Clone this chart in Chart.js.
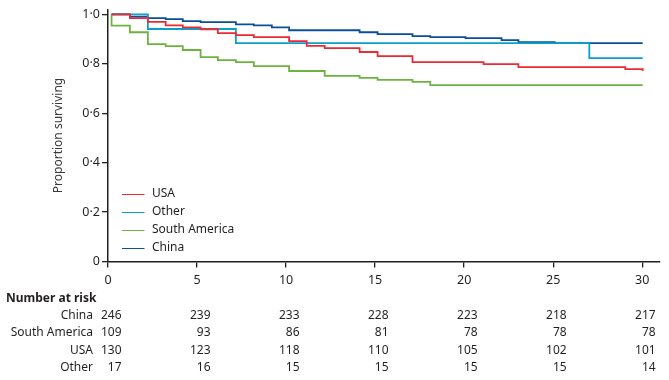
<!DOCTYPE html>
<html>
<head>
<meta charset="utf-8">
<script src="https://cdn.jsdelivr.net/npm/chart.js@4/dist/chart.umd.min.js"></script>
<style>
html,body{margin:0;padding:0;background:#fff;}
#wrap{position:relative;width:669px;height:380px;}
</style>
</head>
<body>
<div id="wrap"><canvas id="c" width="669" height="380"></canvas></div>
<script>
// ---- data ----
const seriesNames = ["USA", "Other", "South America", "China"];
const usaX = [0.2, 1.23, 2.24, 3.24, 4.2, 5.2, 6.17, 7.18, 8.19, 10.17, 11.16, 12.17, 14.13, 15.14, 17.1, 21.09, 23.05, 29.05, 30.03];
const usaY = [1.0, 0.985, 0.97, 0.956, 0.948, 0.94, 0.924, 0.916, 0.908, 0.892, 0.873, 0.864, 0.848, 0.831, 0.807, 0.799, 0.787, 0.779, 0.771];
const otherX = [0.2, 2.24, 7.18, 27.03, 30.03];
const otherY = [1.0, 0.941, 0.884, 0.823, 0.823];
const southAmericaX = [0.2, 0.2, 1.23, 2.24, 3.24, 4.2, 5.2, 6.17, 7.18, 8.19, 10.17, 12.17, 14.13, 15.14, 17.1, 18.1, 30.03];
const southAmericaY = [1.0, 0.955, 0.928, 0.88, 0.872, 0.856, 0.827, 0.815, 0.807, 0.791, 0.771, 0.751, 0.743, 0.735, 0.727, 0.714, 0.714];
const chinaX = [0.2, 1.23, 2.24, 3.24, 4.2, 5.2, 7.18, 8.19, 9.2, 10.17, 14.13, 15.14, 17.1, 18.1, 20.08, 22.1, 23.05, 25.09, 30.03];
const chinaY = [1.0, 0.991, 0.985, 0.981, 0.973, 0.969, 0.960, 0.956, 0.948, 0.936, 0.928, 0.920, 0.912, 0.908, 0.904, 0.896, 0.888, 0.884, 0.884];

const xTicks = [0, 5, 10, 15, 20, 25, 30];
const yTicks = [0, 0.2, 0.4, 0.6, 0.8, 1.0];
const yTickLabels = ["0", "0·2", "0·4", "0·6", "0·8", "1·0"];
const yTitle = "Proportion surviving";

const riskTitle = "Number at risk";
const riskTimes = [0, 5, 10, 15, 20, 25, 30];
const riskRowNames = ["China", "South America", "USA", "Other"];
const riskChina = [246, 239, 233, 228, 223, 218, 217];
const riskSouthAmerica = [109, 93, 86, 81, 78, 78, 78];
const riskUSA = [130, 123, 118, 110, 105, 102, 101];
const riskOther = [17, 16, 15, 15, 15, 15, 14];

// ---- styles ----
const colors = ["#ec2a33", "#0aa0c8", "#6db33f", "#0a4f9c"];
const FONT = "'Noto Sans', 'Open Sans', sans-serif";
const TXT = "#231f20";

const pts = (xs, ys) => xs.map((x, i) => ({x: x, y: ys[i]}));
const seriesData = [pts(usaX, usaY), pts(otherX, otherY), pts(southAmericaX, southAmericaY), pts(chinaX, chinaY)];
const riskRows = [riskChina, riskSouthAmerica, riskUSA, riskOther];

const legendPlugin = {
  id: 'kmLegend',
  afterDraw(chart) {
    const ctx = chart.ctx;
    ctx.save();
    ctx.font = "12px " + FONT;
    ctx.textBaseline = 'middle';
    ctx.textAlign = 'left';
    chart.data.datasets.forEach((ds, i) => {
      const y = 194 + i * 17.9;
      ctx.strokeStyle = ds.borderColor;
      ctx.lineWidth = 1;
      ctx.beginPath();
      ctx.moveTo(122, Math.round(y) + 0.5);
      ctx.lineTo(144.5, Math.round(y) + 0.5);
      ctx.stroke();
      ctx.fillStyle = TXT;
      ctx.fillText(ds.label, 152, y);
    });
    ctx.restore();
  }
};

const riskPlugin = {
  id: 'riskTable',
  afterDraw(chart) {
    const ctx = chart.ctx;
    const xs = chart.scales.x;
    ctx.save();
    ctx.fillStyle = TXT;
    ctx.textBaseline = 'middle';
    ctx.font = "bold 12px " + FONT;
    ctx.textAlign = 'left';
    ctx.fillText(riskTitle, 6, 298.5);
    ctx.font = "12px " + FONT;
    riskRows.forEach((row, r) => {
      const y = 315.5 + r * 17.4;
      ctx.textAlign = 'right';
      ctx.fillText(riskRowNames[r], 93, y);
      row.forEach((v, j) => {
        ctx.fillText(String(v), xs.getPixelForValue(riskTimes[j]) + 13.5, y);
      });
    });
    ctx.restore();
  }
};

new Chart(document.getElementById('c'), {
  type: 'line',
  data: {
    datasets: seriesNames.map((name, i) => ({
      label: name,
      data: seriesData[i],
      borderColor: colors[i],
      backgroundColor: colors[i],
      borderWidth: 1.8,
      pointRadius: 0,
      stepped: 'before',
      fill: false
    }))
  },
  options: {
    responsive: false,
    animation: false,
    layout: {padding: {left: 45, right: 9, top: 8.5, bottom: 88.5}},
    plugins: {legend: {display: false}, tooltip: {enabled: false}},
    scales: {
      x: {
        type: 'linear', min: 0, max: 31,
        afterBuildTicks: s => { s.ticks = xTicks.map(v => ({value: v})); },
        afterFit: s => { s.height = 30; },
        grid: {display: true, drawOnChartArea: false, drawTicks: true, tickLength: 6, color: '#231f20', lineWidth: 1.3},
        border: {display: true, color: '#231f20', width: 1.5},
        ticks: {color: TXT, font: {family: FONT, size: 12.5}, padding: 5, maxRotation: 0, autoSkip: false}
      },
      y: {
        type: 'linear', min: 0, max: 1.02,
        afterBuildTicks: s => { s.ticks = yTicks.map(v => ({value: v})); },
        afterFit: s => { s.width = 63; },
        grid: {display: true, drawOnChartArea: false, drawTicks: true, tickLength: 6, color: '#231f20', lineWidth: 1.3},
        border: {display: true, color: '#231f20', width: 1.5},
        ticks: {
          color: TXT, font: {family: FONT, size: 12.5}, padding: 2,
          callback: (v) => { const k = yTicks.findIndex(t => Math.abs(t - v) < 1e-9); return k >= 0 ? yTickLabels[k] : ''; }
        },
        title: {display: true, text: yTitle, color: '#3a3a3a', font: {family: FONT, size: 12}, padding: {top: 6, bottom: 0}}
      }
    }
  },
  plugins: [legendPlugin, riskPlugin]
});
</script>
</body>
</html>
